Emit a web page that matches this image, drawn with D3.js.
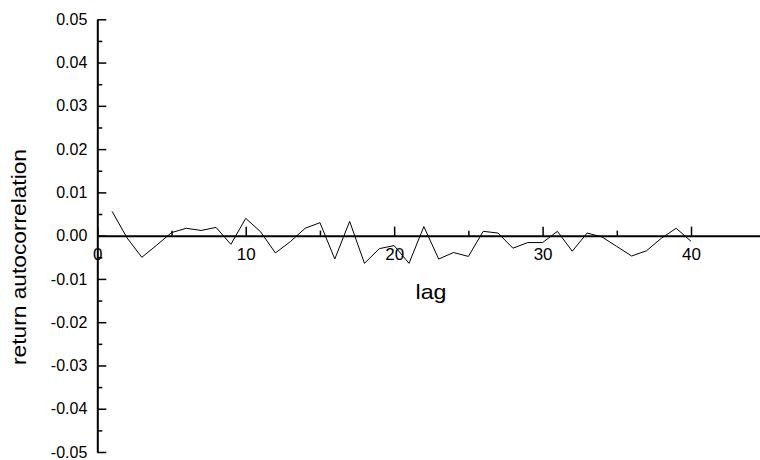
<!DOCTYPE html>
<html>
<head>
<meta charset="utf-8">
<script src="https://cdn.jsdelivr.net/npm/d3@7"></script>
<style>
  html, body { margin: 0; padding: 0; background: #fff; }
  svg { display: block; }
  text { font-family: "Liberation Sans", Arial, Helvetica, sans-serif; fill: #000; }
</style>
</head>
<body>
<svg id="chart" width="760" height="460"></svg>
<script>
// ---- data ----
const lags = [1,2,3,4,5,6,7,8,9,10,11,12,13,14,15,16,17,18,19,20,
              21,22,23,24,25,26,27,28,29,30,31,32,33,34,35,36,37,38,39,40];
const autocorr = [0.0056,-0.0005,-0.0050,-0.0022,0.0007,0.0017,0.0012,0.0019,-0.0020,0.0040,
                  0.0009,-0.0040,-0.0014,0.0017,0.0030,-0.0054,0.0033,-0.0064,-0.0030,-0.0023,
                  -0.0064,0.0021,-0.0054,-0.0039,-0.0048,0.0010,0.0006,-0.0029,-0.0016,-0.0016,
                  0.0010,-0.0036,0.0006,-0.0003,-0.0025,-0.0047,-0.0035,-0.0006,0.0017,-0.0013];
const xMajorTicks = [0, 10, 20, 30, 40];
const xMinorTicks = [5, 15, 25, 35, 45];
const yMajorTicks = [-0.05,-0.04,-0.03,-0.02,-0.01,0,0.01,0.02,0.03,0.04,0.05];
const yMinorTicks = [-0.045,-0.035,-0.025,-0.015,-0.005,0.005,0.015,0.025,0.035,0.045];
const xTitle = "lag";
const yTitle = "return autocorrelation";

// ---- drawing ----
const svg = d3.select("#chart");
const x = d3.scaleLinear().domain([0, 45]).range([97.3, 97.3 + 14.843 * 45]);
const y = d3.scaleLinear().domain([-0.05, 0.05]).range([452, 19.3]);
const x0 = x(0), y0 = y(0);

// y axis minor ticks
svg.append("g").attr("transform", `translate(${x0},0)`)
  .call(d3.axisLeft(y).tickValues(yMinorTicks).tickSizeInner(-5).tickSizeOuter(0).tickFormat(""))
  .call(g => g.select(".domain").remove())
  .call(g => g.selectAll("line").attr("stroke", "#000").attr("stroke-width", 1.5));

// y axis major
svg.append("g").attr("transform", `translate(${x0},0)`)
  .call(d3.axisLeft(y).tickValues(yMajorTicks).tickSizeInner(-9).tickSizeOuter(0)
        .tickPadding(10).tickFormat(d => (Math.abs(d) < 1e-9 ? 0 : d).toFixed(2)))
  .call(g => g.select(".domain").attr("stroke", "#000").attr("stroke-width", 2))
  .call(g => g.selectAll("line").attr("stroke", "#000").attr("stroke-width", 1.5))
  .call(g => g.selectAll("text").attr("font-size", 16).attr("font-family", "Liberation Sans, Arial, sans-serif"));

// x axis minor ticks
svg.append("g").attr("transform", `translate(0,${y0})`)
  .call(d3.axisBottom(x).tickValues(xMinorTicks).tickSizeInner(-5).tickSizeOuter(0).tickFormat(""))
  .call(g => g.select(".domain").remove())
  .call(g => g.selectAll("line").attr("stroke", "#000").attr("stroke-width", 1.5));

// x axis major
svg.append("g").attr("transform", `translate(0,${y0})`)
  .call(d3.axisBottom(x).tickValues(xMajorTicks).tickSizeInner(-9).tickSizeOuter(0)
        .tickPadding(12).tickFormat(d3.format("d")))
  .call(g => g.select(".domain").attr("stroke", "#000").attr("stroke-width", 2))
  .call(g => g.selectAll("line").attr("stroke", "#000").attr("stroke-width", 1.5))
  .call(g => g.selectAll("text").attr("font-size", 17).attr("font-family", "Liberation Sans, Arial, sans-serif"));

// data line
const pts = lags.map((l, i) => [l, autocorr[i]]);
svg.append("path")
  .datum(pts)
  .attr("fill", "none")
  .attr("stroke", "#000")
  .attr("stroke-width", 1)
  .attr("d", d3.line().x(d => x(d[0])).y(d => y(d[1])));

// titles
svg.append("text")
  .attr("x", 431).attr("y", 299)
  .attr("text-anchor", "middle")
  .attr("font-size", 21)
  .attr("textLength", 31).attr("lengthAdjust", "spacingAndGlyphs")
  .text(xTitle);

svg.append("text")
  .attr("transform", "translate(25.5,257) rotate(-90)")
  .attr("text-anchor", "middle")
  .attr("font-size", 21)
  .attr("textLength", 216).attr("lengthAdjust", "spacingAndGlyphs")
  .text(yTitle);
</script>
</body>
</html>
